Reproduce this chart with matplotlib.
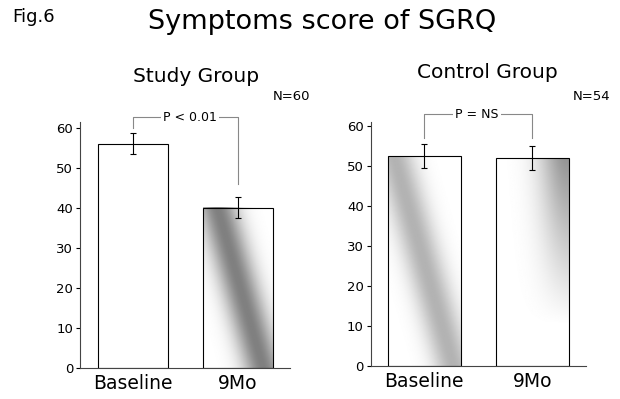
import numpy as np
import matplotlib
matplotlib.use('Agg')
import matplotlib.pyplot as plt

# data
groups = ['Baseline', '9Mo']
study_means = [56, 40]
study_err = [2.6, 2.6]
control_means = [52.5, 52]
control_err = [3.0, 3.0]
yticks = [0, 10, 20, 30, 40, 50, 60]

FONT = 'DejaVu Sans'


def shade(ax, bar, top_c, bottom_c, peak, half=0.3, fade=None):
    # diagonal grey band inside a bar, like the scanned gradient fill
    x0 = bar.get_x()
    w = bar.get_width()
    h = bar.get_height()
    yy, xx = np.mgrid[0:1:240j, 0:1:120j]
    t = 1 - yy
    center = top_c + (bottom_c - top_c) * t
    d = (xx - center) / half
    dark = peak * np.exp(-d ** 2)
    if fade is not None:
        dark = dark * np.clip(1 - t / fade, 0, 1)
    img = 1 - dark
    ax.imshow(img, cmap='gray', vmin=0, vmax=1, origin='lower',
              extent=(x0, x0 + w, 0, h), aspect='auto', zorder=2,
              interpolation='bilinear')


def panel(ax, means, errs, xlim, ylim, width, fills):
    x = np.arange(len(means))
    bars = ax.bar(x, means, width=width, facecolor='none',
                  edgecolor='black', linewidth=0.8, zorder=3)
    for b, f in zip(bars, fills):
        if f is not None:
            shade(ax, b, **f)
    ax.errorbar(x, means, yerr=errs, fmt='none', ecolor='black',
                elinewidth=0.8, capsize=2.5, capthick=0.8, zorder=4)
    ax.set_xlim(*xlim)
    ax.set_ylim(*ylim)
    ax.set_yticks(yticks)
    ax.set_xticks(x)
    ax.set_xticklabels(groups, fontsize=13.5, family=FONT)
    ax.tick_params(axis='x', length=0, pad=4)
    ax.tick_params(axis='y', length=3, width=0.8, labelsize=9.5, pad=2)
    for s in ['top', 'right']:
        ax.spines[s].set_visible(False)
    for s in ['left', 'bottom']:
        ax.spines[s].set_linewidth(0.8)
        ax.spines[s].set_color('#444444')


fig = plt.figure(figsize=(6.2, 3.99), dpi=100)
ax1 = fig.add_axes([0.129, 0.0777, 0.339, 0.617])
ax2 = fig.add_axes([0.598, 0.0827, 0.347, 0.611])

panel(ax1, study_means, study_err, (-0.51, 1.5), (0, 61.5), 0.67,
      [None, dict(top_c=0.2, bottom_c=0.85, peak=0.5, half=0.28)])
panel(ax2, control_means, control_err, (-0.495, 1.495), (0, 61), 0.675,
      [dict(top_c=0.08, bottom_c=0.9, peak=0.3, half=0.27),
       dict(top_c=0.98, bottom_c=1.05, peak=0.42, half=0.38, fade=0.8)])

# significance brackets
br = dict(color='#888888', linewidth=0.8, clip_on=False, zorder=5)
ax1.plot([0, 0, 1, 1], [60, 62.7, 62.7, 46], **br)
ax1.text(0.545, 62.7, 'P < 0.01', ha='center', va='center', fontsize=9,
         family=FONT, bbox=dict(facecolor='white', edgecolor='none', pad=1.5),
         zorder=6)
ax2.plot([0, 0, 1, 1], [57, 63, 63, 57], **br)
ax2.text(0.49, 63, 'P = NS', ha='center', va='center', fontsize=9,
         family=FONT, bbox=dict(facecolor='white', edgecolor='none', pad=1.5),
         zorder=6)

fig.text(12 / 620, 1 - 17 / 399, 'Fig.6', ha='left', va='center',
         fontsize=13, family=FONT)
fig.text(322 / 620, 1 - 22 / 399, 'Symptoms score of SGRQ', ha='center',
         va='center', fontsize=19.5, family=FONT)
fig.text(196 / 620, 1 - 76 / 399, 'Study Group', ha='center', va='center',
         fontsize=14.5, family=FONT)
fig.text(487 / 620, 1 - 73 / 399, 'Control Group', ha='center', va='center',
         fontsize=14.5, family=FONT)
fig.text(273 / 620, 1 - 97 / 399, 'N=60', ha='left', va='center',
         fontsize=9.5, family=FONT)
fig.text(573 / 620, 1 - 97 / 399, 'N=54', ha='left', va='center',
         fontsize=9.5, family=FONT)

fig.savefig('out.png', dpi=100, facecolor='white')
